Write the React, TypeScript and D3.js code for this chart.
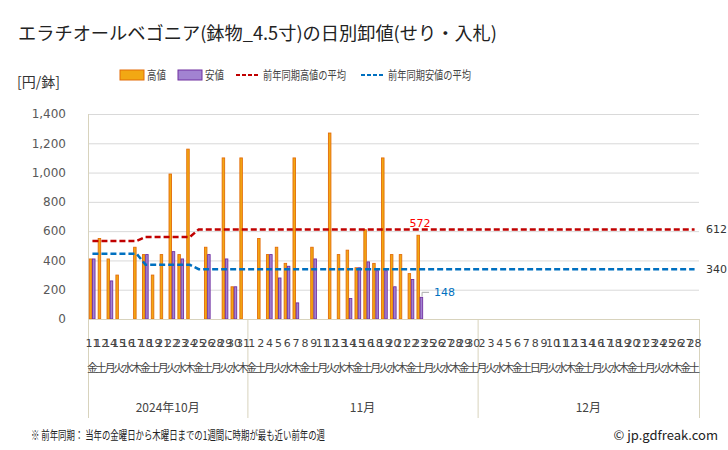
import React from "react";
import * as d3 from "d3";

const title = "エラチオールベゴニア(鉢物_4.5寸)の日別卸値(せり・入札)";
const unitLabel = "[円/鉢]";
const legendLabels = ["高値", "安値", "前年同期高値の平均", "前年同期安値の平均"];
const note = "※ 前年同期： 当年の金曜日から木曜日までの1週間に時期が最も近い前年の週";
const credit = "© jp.gdfreak.com";

const months = ["2024年10月", "11月", "12月"];
const octDays = [11, 12, 14, 15, 16, 17, 18, 19, 21, 22, 23, 24, 25, 26, 28, 29, 30, 31];
const novDays = [1, 2, 4, 5, 6, 7, 8, 9, 11, 12, 13, 14, 15, 16, 18, 19, 20, 21, 22, 23, 25, 26, 27, 28, 29, 30];
const decDays = [2, 3, 4, 5, 6, 7, 8, 9, 10, 11, 12, 13, 14, 16, 17, 18, 19, 20, 21, 23, 24, 25, 26, 27, 28];
const octWeekdays = ["金","土","月","火","水","木","金","土","月","火","水","木","金","土","月","火","水","木"];
const novWeekdays = ["金","土","月","火","水","木","金","土","月","火","水","木","金","土","月","火","水","木","金","土","月","火","水","木","金","土"];
const decWeekdays = ["月","火","水","木","金","土","日","月","火","水","木","金","土","月","火","水","木","金","土","月","火","水","木","金","土"];

// 高値 (one per market day, null = no trade)
const highValues: (number | null)[] = [
  410, 550, 410, 300, null, 490, 440, 300, 440, 990, 440, 1160, null, 490, null, 1100, 220, 1100,
  null, 550, 440, 490, 380, 1100, null, 490, null, 1270, 440, 470, 350, 610, 380, 1100, 440, 440, 310, 572,
  null, null, null, null, null, null, null,
  null, null, null, null, null, null, null, null, null, null, null, null, null, null, null, null, null, null, null, null, null, null, null, null,
];
// 安値
const lowValues: (number | null)[] = [
  410, null, 260, null, null, null, 440, null, null, 460, 410, null, null, 440, null, 410, 220, null,
  null, null, 440, 280, 360, 110, null, 410, null, null, null, 140, 350, 390, 330, 330, 220, null, 270, 148,
  null, null, null, null, null, null, null,
  null, null, null, null, null, null, null, null, null, null, null, null, null, null, null, null, null, null, null, null, null, null, null, null,
];
// 前年同期平均 per Friday–Thursday week (Oct 11, 18, 25, Nov 1, 8, 15, 22, 29, Dec 6, 13, 20, 27)
const prevHighWeekly = [533, 560, 612, 612, 612, 612, 612, 612, 612, 612, 612, 612];
const prevLowWeekly = [445, 370, 340, 340, 340, 340, 340, 340, 340, 340, 340, 340];
const yTicks = [0, 200, 400, 600, 800, 1000, 1200, 1400];

const W = 728, H = 450;
const L = 88, R = 699, T = 114, B = 319;
const JP = "'Noto Sans CJK JP', 'Noto Sans', sans-serif";
const NUM = "'DejaVu Sans', Verdana, sans-serif";

export default function App() {
  const days = [...octDays, ...novDays, ...decDays];
  const weekdays = [...octWeekdays, ...novWeekdays, ...decWeekdays];
  const monthSizes = [octDays.length, novDays.length, decDays.length];
  const idx = days.map((_, i) => i);
  const x = d3.scaleBand<number>().domain(idx).range([L, R]).padding(0);
  const bw = x.bandwidth();
  const cx = (i: number) => (x(i) as number) + bw / 2;
  const y = d3.scaleLinear().domain([0, 1400]).range([B, T]);

  // week index per category (weeks start on Friday)
  const weekIdx: number[] = [];
  let w = 0;
  weekdays.forEach((d, i) => {
    if (i > 0 && d === "金") w++;
    weekIdx.push(w);
  });
  const prevHigh = idx.map((i) => prevHighWeekly[weekIdx[i]]);
  const prevLow = idx.map((i) => prevLowWeekly[weekIdx[i]]);
  const line = d3.line<number>().x((_, i) => cx(i)).y((v) => y(v));

  const barW = 3.1;
  const bounds: number[] = [L];
  let acc = 0;
  monthSizes.forEach((n) => {
    acc += n;
    bounds.push(acc === days.length ? R : (x(acc) as number));
  });

  const lastHighI = highValues.reduce((a, v, i) => (v != null ? i : a), -1);
  const lastLowI = lowValues.reduce((a, v, i) => (v != null ? i : a), -1);
  const lastI = days.length - 1;

  return (
    <svg width={W} height={H} style={{ display: "block", position: "absolute", left: 0, top: 0, background: "#fff" }}>
      <text x={18} y={40} fontFamily={JP} fontSize={18} fill="#222" textLength={479} lengthAdjust="spacingAndGlyphs">{title}</text>
      <text x={17} y={87} fontFamily={JP} fontSize={14} fill="#333">{unitLabel}</text>

      {/* legend */}
      <rect x={120} y={70} width={24} height={10} fill="#f2a813" stroke="#e36c09" strokeWidth={1} />
      <text x={147} y={80} fontFamily={JP} fontSize={12} fill="#444" textLength={19} lengthAdjust="spacingAndGlyphs">{legendLabels[0]}</text>
      <rect x={178} y={70} width={24} height={10} fill="#a283d1" stroke="#7030a0" strokeWidth={1} />
      <text x={205} y={80} fontFamily={JP} fontSize={12} fill="#444" textLength={19} lengthAdjust="spacingAndGlyphs">{legendLabels[1]}</text>
      <line x1={236} x2={260} y1={75} y2={75} stroke="#c00000" strokeWidth={2} strokeDasharray="4,2" />
      <text x={263} y={80} fontFamily={JP} fontSize={12} fill="#444" textLength={83} lengthAdjust="spacingAndGlyphs">{legendLabels[2]}</text>
      <line x1={361} x2={385} y1={75} y2={75} stroke="#0070c0" strokeWidth={2} strokeDasharray="4,2" />
      <text x={388} y={80} fontFamily={JP} fontSize={12} fill="#444" textLength={83} lengthAdjust="spacingAndGlyphs">{legendLabels[3]}</text>

      {/* grid + y labels */}
      {yTicks.map((t) => (
        <g key={t}>
          {t > 0 && <line x1={L} x2={R} y1={y(t) + 0.5} y2={y(t) + 0.5} stroke="#d9d9d9" strokeWidth={1} />}
          <text x={66} y={y(t)} dy="0.36em" textAnchor="end" fontFamily={NUM} fontSize={12} fill="#595959">
            {d3.format(",")(t)}
          </text>
        </g>
      ))}
      <line x1={L + 0.5} x2={L + 0.5} y1={T} y2={B} stroke="#d8d3bd" strokeWidth={1} />

      {/* bars */}
      {idx.map((i) =>
        highValues[i] != null ? (
          <rect key={"h" + i} x={cx(i) - barW} y={y(highValues[i] as number)} width={barW - 0.6}
            height={B - y(highValues[i] as number)} fill="#f2a813" stroke="#e36c09" strokeWidth={0.9} />
        ) : null
      )}
      {idx.map((i) =>
        lowValues[i] != null ? (
          <rect key={"l" + i} x={cx(i) + 0.1} y={y(lowValues[i] as number)} width={barW - 0.6}
            height={B - y(lowValues[i] as number)} fill="#a283d1" stroke="#7030a0" strokeWidth={0.9} />
        ) : null
      )}

      {/* prior year averages */}
      <path d={line(prevHigh) || ""} fill="none" stroke="#c00000" strokeWidth={2.5} strokeDasharray="6,3" />
      <path d={line(prevLow) || ""} fill="none" stroke="#0070c0" strokeWidth={2.5} strokeDasharray="6,3" />

      {/* x axis baseline */}
      <line x1={L} x2={R} y1={B + 0.5} y2={B + 0.5} stroke="#d8d3bd" strokeWidth={1} />
      {bounds.map((b, k) => (
        <line key={k} x1={b + 0.5} x2={b + 0.5} y1={B} y2={418} stroke="#d8d3bd" strokeWidth={1} />
      ))}

      {/* value labels */}
      <text x={cx(lastHighI)} y={227} textAnchor="middle" fontFamily={NUM} fontSize={11} fill="#ff0000">
        {highValues[lastHighI]}
      </text>
      <polyline
        points={`${cx(lastLowI) + 2},${y(lowValues[lastLowI] as number) - 1} ${cx(lastLowI) + 2},${y(lowValues[lastLowI] as number) - 5} ${cx(lastLowI) + 9},${y(lowValues[lastLowI] as number) - 5}`}
        fill="none" stroke="#aaaaaa" strokeWidth={1} />
      <text x={434} y={y(lowValues[lastLowI] as number) - 1} fontFamily={NUM} fontSize={11} fill="#0070c0">
        {lowValues[lastLowI]}
      </text>
      <text x={706} y={y(prevHigh[lastI])} dy="0.36em" fontFamily={NUM} fontSize={11} fill="#333">{prevHigh[lastI]}</text>
      <text x={706} y={y(prevLow[lastI])} dy="0.36em" fontFamily={NUM} fontSize={11} fill="#333">{prevLow[lastI]}</text>

      {/* x labels */}
      {idx.map((i) => (
        <text key={"d" + i} x={cx(i)} y={347} textAnchor="middle" fontFamily={NUM} fontSize={11} fill="#444">
          {days[i]}
        </text>
      ))}
      {idx.map((i) => (
        <text key={"w" + i} x={cx(i)} y={372} textAnchor="middle" fontFamily={JP} fontSize={11} fill="#444">
          {weekdays[i]}
        </text>
      ))}
      {months.map((m, k) => (
        <text key={m} x={(bounds[k] + bounds[k + 1]) / 2} y={412} textAnchor="middle" fontFamily={JP} fontSize={12} fill="#444">
          {m}
        </text>
      ))}

      <text x={31} y={440} fontFamily={JP} fontSize={12} fill="#222" textLength={294} lengthAdjust="spacingAndGlyphs">{note}</text>
      <text x={718} y={440} textAnchor="end" fontFamily={JP} fontSize={13} fill="#222">{credit}</text>
    </svg>
  );
}
